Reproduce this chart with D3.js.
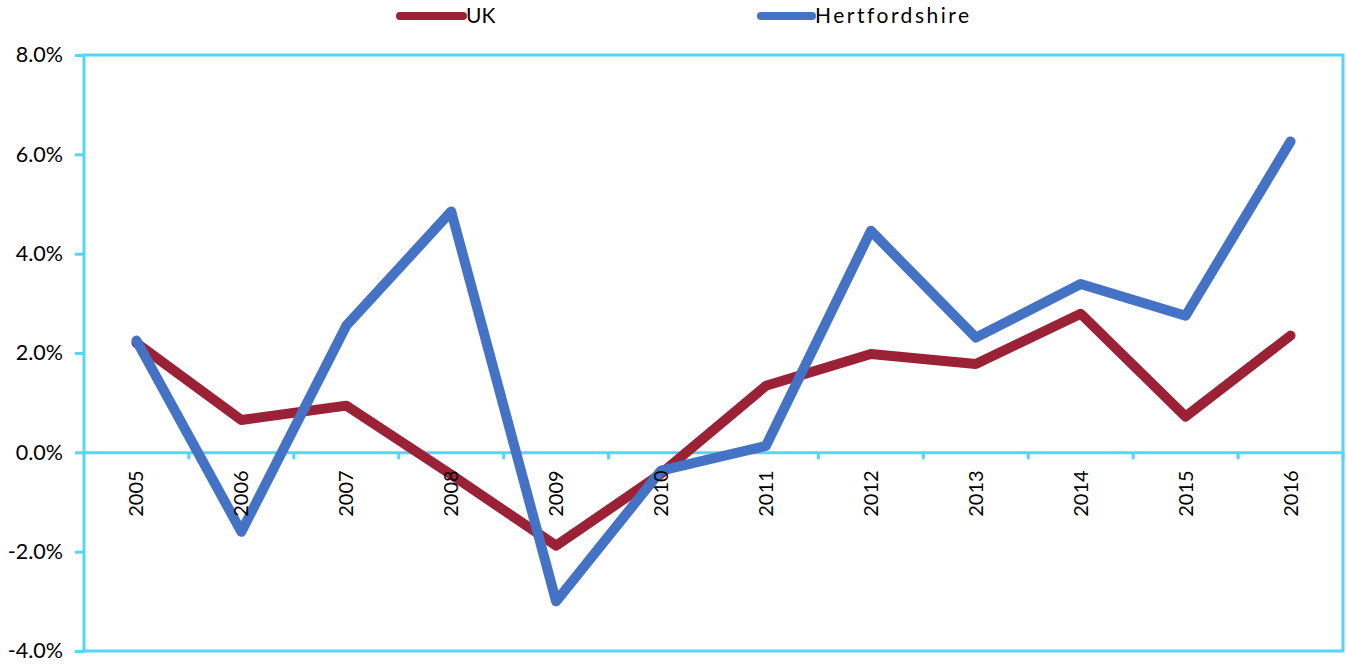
<!DOCTYPE html>
<html>
<head>
<meta charset="utf-8">
<script src="https://cdn.jsdelivr.net/npm/d3@7"></script>
<style>
  body { margin: 0; background: #fff; }
  svg text { font-family: Lato, "Open Sans", sans-serif; fill: #000; }
</style>
</head>
<body>
<div id="chart"><svg width="1346" height="668"></svg></div>
<script>
const years = ['2005', '2006', '2007', '2008', '2009', '2010', '2011', '2012', '2013', '2014', '2015', '2016'];
const ukValues = [2.2, 0.65, 0.94, -0.45, -1.88, -0.43, 1.34, 1.98, 1.78, 2.79, 0.72, 2.35];
const hertsValues = [2.25, -1.6, 2.55, 4.85, -3.0, -0.37, 0.13, 4.46, 2.31, 3.39, 2.75, 6.26];
const yTicks = [-4, -2, 0, 2, 4, 6, 8];
const seriesNames = ['UK', 'Hertfordshire'];

const colors = ['#9b2236', '#4472c4'];
const legendPos = [[400, 463], [761, 812]];
const borderColor = '#55d5fc';

const series = seriesNames.map((name, i) => ({
    name: name,
    values: i === 0 ? ukValues : hertsValues,
    color: colors[i],
    legendX: legendPos[i]
}));

const svg = d3.select('#chart svg');
const plot = { left: 84, right: 1343, top: 55, bottom: 651 };

const x = d3.scaleBand().domain(years).range([plot.left, plot.right]);
const y = d3.scaleLinear().domain([-4, 8]).range([plot.bottom, plot.top]);

const gFrame = svg.append('g');   // frame + zero line
const gLines = svg.append('g');   // data lines
const gText = svg.append('g');    // labels on top

// plot frame
gFrame.append('rect')
    .attr('x', plot.left).attr('y', plot.top)
    .attr('width', plot.right - plot.left).attr('height', plot.bottom - plot.top)
    .attr('fill', 'none').attr('stroke', borderColor).attr('stroke-width', 3);

// y axis
const yAxis = gFrame.append('g')
    .attr('transform', `translate(${plot.left},0)`)
    .call(d3.axisLeft(y).tickValues(yTicks).tickSize(9).tickPadding(12)
        .tickFormat(d => d.toFixed(1) + '%'));
yAxis.select('.domain').remove();
yAxis.selectAll('.tick line').attr('stroke', borderColor).attr('stroke-width', 3);
yAxis.selectAll('.tick text').attr('font-size', 21.5);

// zero line with category ticks
const xAxis = gFrame.append('g')
    .attr('transform', `translate(0,${y(0)})`)
    .call(d3.axisBottom(x).tickSize(0).tickFormat(''));
xAxis.select('.domain').attr('stroke', borderColor).attr('stroke-width', 3);
gFrame.append('g').selectAll('line')
    .data(years)
    .join('line')
    .attr('x1', d => x(d) + x.bandwidth())
    .attr('x2', d => x(d) + x.bandwidth())
    .attr('y1', y(0)).attr('y2', y(0) + 7)
    .attr('stroke', borderColor).attr('stroke-width', 3);

// lines
const line = d3.line()
    .x((d, i) => x(years[i]) + x.bandwidth() / 2)
    .y(d => y(d));
gLines.selectAll('path')
    .data(series)
    .join('path')
    .attr('d', s => line(s.values))
    .attr('fill', 'none')
    .attr('stroke', s => s.color)
    .attr('stroke-width', 10)
    .attr('stroke-linejoin', 'round')
    .attr('stroke-linecap', 'round');

// category labels drawn over the lines
gText.selectAll('text.year')
    .data(years)
    .join('text')
    .attr('class', 'year')
    .attr('font-size', 20)
    .attr('text-anchor', 'end')
    .attr('dy', '0.35em')
    .attr('transform', d => `translate(${x(d) + x.bandwidth() / 2},${y(0) + 18}) rotate(-90)`)
    .text(d => d);

// legend
const legend = gText.append('g').selectAll('g')
    .data(series)
    .join('g');
legend.append('line')
    .attr('x1', s => s.legendX[0]).attr('x2', s => s.legendX[1])
    .attr('y1', 16).attr('y2', 16)
    .attr('stroke', s => s.color)
    .attr('stroke-width', 8)
    .attr('stroke-linecap', 'round');
legend.append('text')
    .attr('x', s => s.legendX[1] + 3)
    .attr('y', 16)
    .attr('dy', '0.35em')
    .attr('font-size', 21)
    .attr('letter-spacing', s => s.name.length > 2 ? 2.5 : 0)
    .text(s => s.name);
</script>
</body>
</html>
